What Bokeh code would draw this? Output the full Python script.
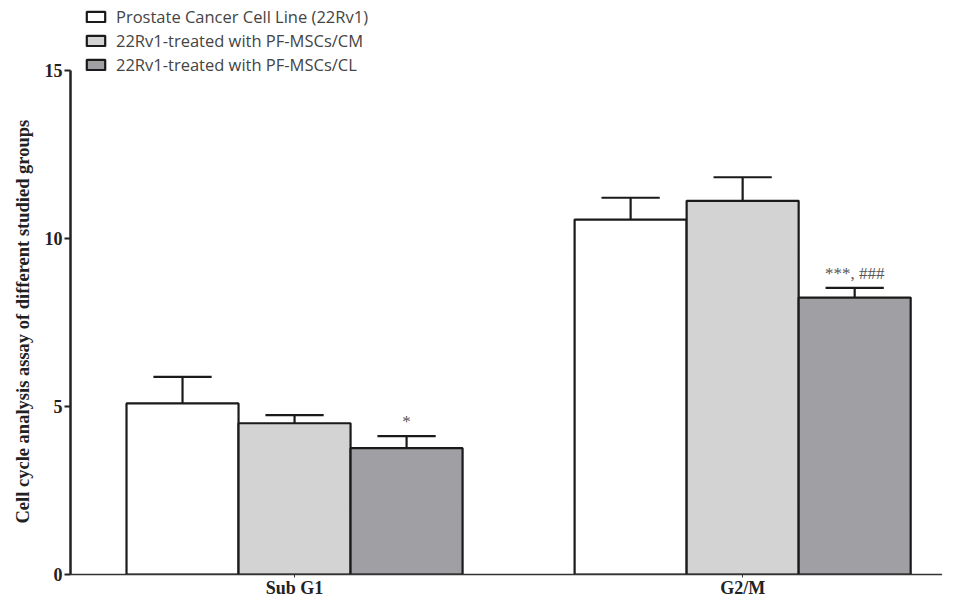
from bokeh.plotting import figure
from bokeh.models import ColumnDataSource, Legend, LegendItem, FixedTicker, Range1d, Title
from bokeh.core.properties import value
from bokeh.embed import file_html
from bokeh.resources import INLINE

# ---- data ----
phases = ["Sub G1", "G2/M"]
series_names = ["Prostate Cancer Cell Line (22Rv1)",
                "22Rv1-treated with PF-MSCs/CM",
                "22Rv1-treated with PF-MSCs/CL"]
means = [[5.09, 10.56],   # 22Rv1
         [4.50, 11.12],   # CM
         [3.76, 8.24]]    # CL
errors = [[0.79, 0.65],
          [0.24, 0.70],
          [0.36, 0.29]]
annotations = [["", ""], ["", ""], ["*", "***, ###"]]
colors = ["#ffffff", "#d3d3d3", "#a0a0a4"]
y_ticks = [0, 5, 10, 15]
y_label = "Cell cycle analysis assay of different studied groups"

group_x = [0, 1]
bar_w = 0.25
offsets = [-0.25, 0.0, 0.25]
cap_w = 0.13

p = figure(frame_width=872, frame_height=574, output_backend="svg",
           toolbar_location=None, x_range=Range1d(-0.5, 1.446),
           y_range=Range1d(0, 17.08),
           min_border_left=70, min_border_right=0, min_border_top=0,
           min_border_bottom=0)
p.outline_line_color = None
p.xgrid.visible = False
p.ygrid.visible = False
p.background_fill_color = "white"

renderers = []
for i in range(3):
    xs = [g + offsets[i] for g in group_x]
    tops = means[i]
    src = ColumnDataSource(dict(x=xs, top=tops,
                                err_top=[t + e for t, e in zip(tops, errors[i])],
                                x0=[x - cap_w / 2 for x in xs],
                                x1=[x + cap_w / 2 for x in xs],
                                ann=annotations[i],
                                ann_y=[t + e + 0.42 for t, e in zip(tops, errors[i])]))
    # error bars (upper only)
    p.segment(x0="x", y0="top", x1="x", y1="err_top", source=src,
              line_color="#1a1a1a", line_width=2.2)
    p.segment(x0="x0", y0="err_top", x1="x1", y1="err_top", source=src,
              line_color="#1a1a1a", line_width=2.2)
    r = p.vbar(x="x", top="top", bottom=0, width=bar_w, source=src,
               fill_color=colors[i], line_color="#1a1a1a", line_width=2.2)
    renderers.append(r)
    p.text(x="x", y="ann_y", text="ann", source=src,
           text_align="center", text_baseline="middle",
           text_font=value("Liberation Serif"), text_font_size="17px",
           text_color="#555555")

legend = Legend(items=[LegendItem(label=series_names[i], renderers=[renderers[i]])
                       for i in range(3)],
                location=(14, 498), orientation="vertical",
                glyph_width=23, glyph_height=13, label_height=16,
                spacing=1, padding=1, margin=0,
                label_standoff=9,
                label_text_font="Open Sans", label_text_font_size="16.5px",
                label_text_color="#444444",
                border_line_color=None, background_fill_alpha=0)
p.add_layout(legend, "center")

# y axis
p.yaxis.bounds = (0, 15)
p.yaxis.ticker = FixedTicker(ticks=y_ticks)
p.yaxis.minor_tick_line_color = None
p.yaxis.major_tick_out = 6
p.yaxis.major_tick_in = 0
p.yaxis.major_tick_line_width = 2
p.yaxis.axis_line_width = 2.5
p.yaxis.axis_line_color = "#222222"
p.yaxis.major_tick_line_color = "#222222"
p.yaxis.major_label_standoff = 2
p.yaxis.major_label_text_font = "Liberation Serif"
p.yaxis.major_label_text_font_style = "bold"
p.yaxis.major_label_text_font_size = "18px"
p.yaxis.major_label_text_color = "#222222"

ytitle = Title(text=y_label, align="left", offset=51, standoff=18,
               text_font="Liberation Serif", text_font_style="bold",
               text_font_size="18.5px", text_color="#222222")
p.add_layout(ytitle, "left")

# x axis
p.xaxis.ticker = FixedTicker(ticks=group_x)
p.xaxis.major_label_overrides = {0: phases[0], 1: phases[1]}
p.xaxis.minor_tick_line_color = None
p.xaxis.major_tick_out = 3
p.xaxis.major_tick_in = 0
p.xaxis.axis_line_width = 1.5
p.xaxis.axis_line_color = "#333333"
p.xaxis.major_tick_line_color = "#333333"
p.xaxis.major_label_standoff = 0
p.xaxis.major_label_text_font = "Liberation Serif"
p.xaxis.major_label_text_font_style = "bold"
p.xaxis.major_label_text_font_size = "18px"
p.xaxis.major_label_text_color = "#222222"

open("out.html", "w").write(file_html(p, INLINE))
